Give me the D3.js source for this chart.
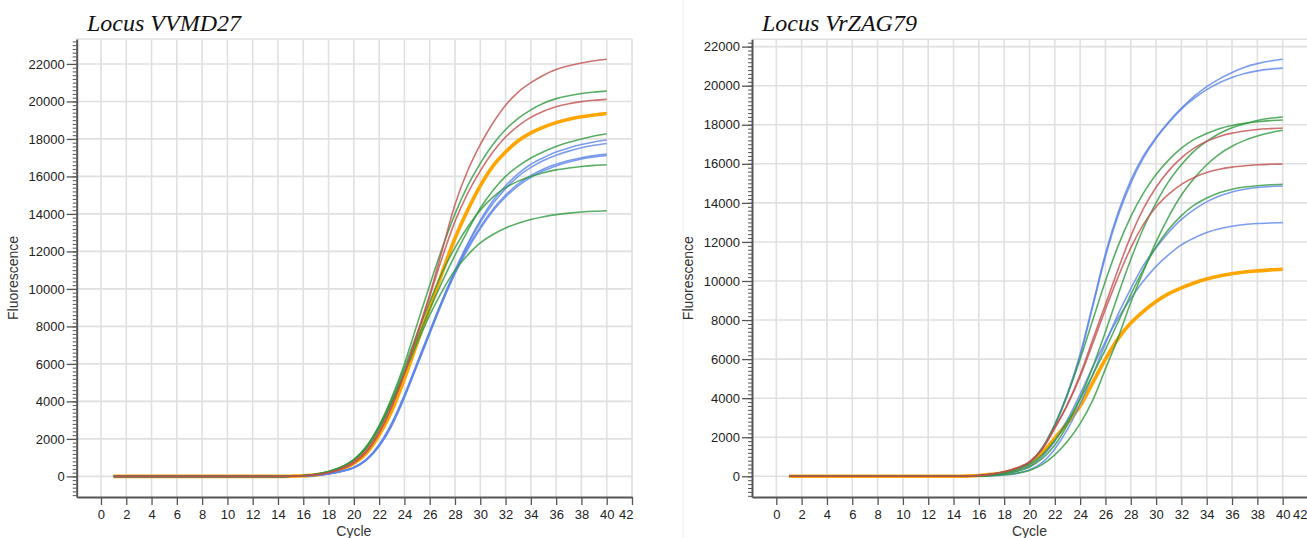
<!DOCTYPE html>
<html>
<head>
<meta charset="utf-8">
<script src="https://cdn.jsdelivr.net/npm/d3@7"></script>
<style>
  html, body { margin: 0; padding: 0; background: #fff; }
  svg { display: block; }
</style>
</head>
<body>
<svg id="chart" width="1307" height="538"></svg>
<script>
// ---------------- DATA ----------------
const cycles = [1,2,3,4,5,6,7,8,9,10,11,12,13,14,15,16,17,18,19,20,21,22,23,24,25,26,27,28,29,30,31,32,33,34,35,36,37,38,39,40];
const xTickValues = [0,2,4,6,8,10,12,14,16,18,20,22,24,26,28,30,32,34,36,38,40,42];
const yTickValues = [0,2000,4000,6000,8000,10000,12000,14000,16000,18000,20000,22000];
const titles = ["Locus VVMD27", "Locus VrZAG79"];
const xLabel = "Cycle";
const yLabel = "Fluorescence";

// ---- Locus VVMD27 (left) ----
const vvRed1   = [0,0,0,0,0,0,0,0,0,0,0,0,0,0,10, 30,80,190,380,700, 1300,2300,3700,5500,7600, 9700,12100,14500,16300,17700, 18850,19800,20500,21000,21400, 21700,21900,22050,22170,22250];
const vvRed2   = [0,0,0,0,0,0,0,0,0,0,0,0,0,0,10, 30,90,210,420,780, 1400,2400,3800,5500,7500, 9600,11700,13600,15100,16300, 17300,18100,18700,19150,19480, 19720,19880,19990,20060,20110];
const vvGreen1 = [0,0,0,0,0,0,0,0,0,0,0,0,0,0,10, 40,110,260,500,900, 1600,2700,4200,6000,8100, 10200,12200,14000,15500,16700, 17700,18500,19100,19550,19900, 20150,20300,20420,20500,20550];
const vvGreen2 = [0,0,0,0,0,0,0,0,0,0,0,0,0,0,10, 35,100,240,470,850, 1500,2550,3950,5600,7300, 8900,10400,11800,13100,14300, 15250,16000,16550,16980,17320, 17600,17820,18000,18160,18280];
const vvGreen3 = [0,0,0,0,0,0,0,0,0,0,0,0,0,0,10, 40,110,260,500,900, 1600,2700,4100,5800,7600, 9300,10900,12200,13300,14200, 14900,15400,15750,16000,16200, 16350,16450,16530,16590,16620];
const vvGreen4 = [0,0,0,0,0,0,0,0,0,0,0,0,0,0,10, 40,110,250,480,880, 1550,2600,3950,5500,7100, 8600,9900,11000,11800,12450, 12900,13250,13500,13700,13850, 13960,14040,14100,14140,14165];
const vvBlue1  = [0,0,0,0,0,0,0,0,0,0,0,0,0,0,5, 20,60,140,270,480, 900,1650,2800,4300,6000, 7700,9400,11000,12400,13650, 14700,15500,16150,16650,17000, 17300,17520,17700,17840,17940];
const vvBlue2  = [0,0,0,0,0,0,0,0,0,0,0,0,0,0,5, 20,60,135,260,460, 870,1600,2700,4200,5900, 7600,9300,10900,12350,13550, 14550,15350,16000,16480,16850, 17130,17350,17530,17660,17760];
const vvBlue3  = [0,0,0,0,0,0,0,0,0,0,0,0,0,0,5, 20,60,140,270,490, 920,1700,2850,4350,6050, 7750,9400,10900,12200,13300, 14250,15000,15600,16050,16400, 16650,16850,17000,17110,17190];
const vvBlue4  = [0,0,0,0,0,0,0,0,0,0,0,0,0,0,5, 20,55,130,255,460, 880,1620,2750,4250,5950, 7650,9300,10800,12100,13200, 14150,14900,15500,15950,16300, 16560,16770,16930,17040,17120];
const vvOrange = [0,0,0,0,0,0,0,0,0,0,0,0,0,0,10, 30,80,190,380,700, 1250,2200,3500,5200,7100, 9000,10900,12700,14200,15500, 16550,17300,17900,18320,18630, 18870,19050,19180,19280,19360];

// ---- Locus VrZAG79 (right) ----
const zgBlue1  = [0,0,0,0,0,0,0,0,0,0,0,0,0,0,10, 40,100,200,380,700, 1450,2650,4250,6250,8800, 11400,13500,15150,16400,17350, 18150,18850,19450,19950,20350, 20680,20950,21130,21260,21350];
const zgBlue2  = [0,0,0,0,0,0,0,0,0,0,0,0,0,0,10, 40,100,200,370,680, 1400,2600,4150,6150,8700, 11250,13350,15000,16300,17300, 18100,18800,19350,19800,20150, 20420,20620,20760,20850,20900];
const zgBlue3  = [0,0,0,0,0,0,0,0,0,0,0,0,0,0,0, 10,30,70,150,330, 700,1400,2400,3700,5200, 6800,8300,9600,10800,11700, 12500,13150,13650,14050,14350, 14560,14700,14790,14840,14860];
const zgBlue4  = [0,0,0,0,0,0,0,0,0,0,0,0,0,0,5, 20,60,130,260,500, 1000,1800,2900,4200,5600, 6900,8100,9100,10000,10750, 11350,11850,12200,12480,12670, 12800,12890,12940,12970,12990];
const zgGreen1 = [0,0,0,0,0,0,0,0,0,0,0,0,0,0,10, 40,100,220,400,700, 1450,2650,4200,6000,8000, 10000,11800,13300,14500,15450, 16200,16800,17250,17550,17800, 17960,18070,18150,18210,18240];
const zgGreen2 = [0,0,0,0,0,0,0,0,0,0,0,0,0,0,5, 20,60,130,260,480, 900,1600,2650,4000,5600, 7400,9300,11100,12700,14000, 15100,15950,16650,17150,17550, 17850,18050,18220,18330,18400];
const zgGreen3 = [0,0,0,0,0,0,0,0,0,0,0,0,0,0,0, 10,30,80,160,300, 600,1100,1800,2700,3900, 5500,7100,8900,10500,12000, 13300,14400,15250,15950,16500, 16900,17200,17420,17590,17715];
const zgGreen4 = [0,0,0,0,0,0,0,0,0,0,0,0,0,0,5, 30,80,180,340,600, 1100,1850,2800,3950,5200, 6500,7900,9300,10600,11750, 12650,13350,13880,14250,14520, 14700,14810,14880,14925,14950];
const zgRed1   = [0,0,0,0,0,0,0,0,0,0,0,0,0,0,10, 40,110,230,420,750, 1400,2500,3700,5200,7000, 8800,10600,12300,13700,14800, 15650,16300,16800,17150,17400, 17570,17680,17760,17800,17830];
const zgRed2   = [0,0,0,0,0,0,0,0,0,0,0,0,0,0,10, 40,110,230,420,740, 1380,2450,3650,5100,6800, 8550,10200,11700,12900,13800, 14450,14950,15300,15550,15720, 15830,15900,15950,15975,15990];
const zgOrange = [0,0,0,0,0,0,0,0,0,0,0,0,0,0,10, 40,100,200,380,650, 1200,1950,2750,3600,4800, 6000,7050,7850,8450,8950, 9350,9650,9900,10100,10250, 10370,10460,10520,10570,10600];

// ---------------- STYLE ----------------
const COLORS = { red: "#c0504d", green: "#2f9a3f", blue: "#5b84e8", orange: "#ffa500" };

const panels = [
  {
    title: titles[0], titleX: 87,
    xRange: [76.7, 632], yRange: [497, 39], xDomain: [-1.92, 42], yDomain: [-1100, 23330],
    ylabX: 18,
    series: [
      { v: vvOrange, c: "orange" },
      { v: vvBlue1, c: "blue" }, { v: vvBlue2, c: "blue" }, { v: vvBlue3, c: "blue" }, { v: vvBlue4, c: "blue" },
      { v: vvGreen1, c: "green" }, { v: vvGreen2, c: "green" }, { v: vvGreen3, c: "green" }, { v: vvGreen4, c: "green" },
      { v: vvRed1, c: "red" }, { v: vvRed2, c: "red" }
    ]
  },
  {
    title: titles[1], titleX: 762,
    xRange: [752, 1308], yRange: [497, 39.3], xDomain: [-1.92, 42], yDomain: [-1060, 22375],
    ylabX: 693,
    series: [
      { v: zgOrange, c: "orange" },
      { v: zgBlue1, c: "blue" }, { v: zgBlue2, c: "blue" }, { v: zgBlue3, c: "blue" }, { v: zgBlue4, c: "blue" },
      { v: zgGreen1, c: "green" }, { v: zgGreen2, c: "green" }, { v: zgGreen3, c: "green" }, { v: zgGreen4, c: "green" },
      { v: zgRed1, c: "red" }, { v: zgRed2, c: "red" }
    ]
  }
];

const svg = d3.select("#chart");
const FONT = "'Liberation Sans', Arial, sans-serif";
const fmt = d3.format("d");

// faint frame line of the right picture
svg.append("line").attr("x1", 683).attr("x2", 683).attr("y1", 0).attr("y2", 538)
  .attr("stroke", "#f0f0f0").attr("stroke-width", 1);

panels.forEach(p => {
  const x = d3.scaleLinear().domain(p.xDomain).range(p.xRange);
  const y = d3.scaleLinear().domain(p.yDomain).range(p.yRange);
  const g = svg.append("g");
  const top = p.yRange[1], bottom = p.yRange[0], left = p.xRange[0], right = p.xRange[1];

  // grid
  const grid = g.append("g").attr("stroke", "#e0e0e0").attr("stroke-width", 1.6);
  grid.selectAll("line.v").data(xTickValues).join("line")
    .attr("x1", d => x(d)).attr("x2", d => x(d)).attr("y1", top).attr("y2", bottom);
  grid.selectAll("line.h").data(yTickValues).join("line")
    .attr("y1", d => y(d)).attr("y2", d => y(d)).attr("x1", left).attr("x2", right);
  grid.append("line").attr("x1", left).attr("x2", right).attr("y1", top).attr("y2", top);

  // curves
  const line = d3.line()
    .x((d, i) => x(cycles[i]))
    .y(d => y(d))
    .curve(d3.curveMonotoneX);
  g.append("g").selectAll("path").data(p.series).join("path")
    .attr("d", s => line(s.v))
    .attr("fill", "none")
    .attr("stroke", s => COLORS[s.c])
    .attr("stroke-width", s => s.c === "orange" ? 3.6 : 1.6)
    .attr("stroke-opacity", s => s.c === "orange" ? 1 : 0.8)
    .attr("stroke-linejoin", "round");

  // minor ticks on y
  const minor = d3.range(-1000, p.yDomain[1], 200);
  g.append("g").attr("transform", `translate(${left},0)`)
    .call(d3.axisLeft(y).tickValues(minor).tickSize(4).tickFormat(""))
    .call(a => a.select(".domain").remove())
    .call(a => a.selectAll("line").attr("stroke", "#555").attr("stroke-width", 1));

  // major y axis
  const yAxis = g.append("g").attr("transform", `translate(${left},0)`)
    .call(d3.axisLeft(y).tickValues(yTickValues).tickFormat(fmt).tickSize(10).tickPadding(2).tickSizeOuter(0));
  yAxis.select(".domain").attr("stroke", "#555").attr("stroke-width", 2);
  yAxis.selectAll(".tick line").attr("stroke", "#555").attr("stroke-width", 1.3);
  yAxis.selectAll("text").attr("font-family", FONT).attr("font-size", 13).attr("fill", "#222");

  // x axis
  const xAxis = g.append("g").attr("transform", `translate(0,${bottom})`)
    .call(d3.axisBottom(x).tickValues(xTickValues).tickFormat(fmt).tickSize(8).tickPadding(5).tickSizeOuter(0));
  xAxis.select(".domain").attr("stroke", "#555").attr("stroke-width", 2);
  xAxis.selectAll(".tick line").attr("stroke", "#555").attr("stroke-width", 1.3);
  xAxis.selectAll("text").attr("font-family", FONT).attr("font-size", 13).attr("fill", "#222");
  // last label kept inside the plot edge
  const lastVal = xTickValues[xTickValues.length - 1];
  xAxis.selectAll(".tick").filter(d => d === lastVal).select("text")
    .attr("text-anchor", "end")
    .attr("dx", Math.min(x(lastVal), 1306) - x(lastVal) + 1);

  // labels
  g.append("text").text(p.title)
    .attr("x", p.titleX).attr("y", 31)
    .attr("font-family", "'Liberation Serif', 'Times New Roman', serif")
    .attr("font-style", "italic").attr("font-size", 24).attr("fill", "#111");
  g.append("text").text(yLabel)
    .attr("transform", `translate(${p.ylabX},${(top + bottom) / 2 + 10}) rotate(-90)`)
    .attr("text-anchor", "middle")
    .attr("font-family", FONT).attr("font-size", 14).attr("fill", "#333");
  g.append("text").text(xLabel)
    .attr("x", x(20)).attr("y", 536)
    .attr("text-anchor", "middle")
    .attr("font-family", FONT).attr("font-size", 14).attr("fill", "#333");
});
</script>
</body>
</html>
